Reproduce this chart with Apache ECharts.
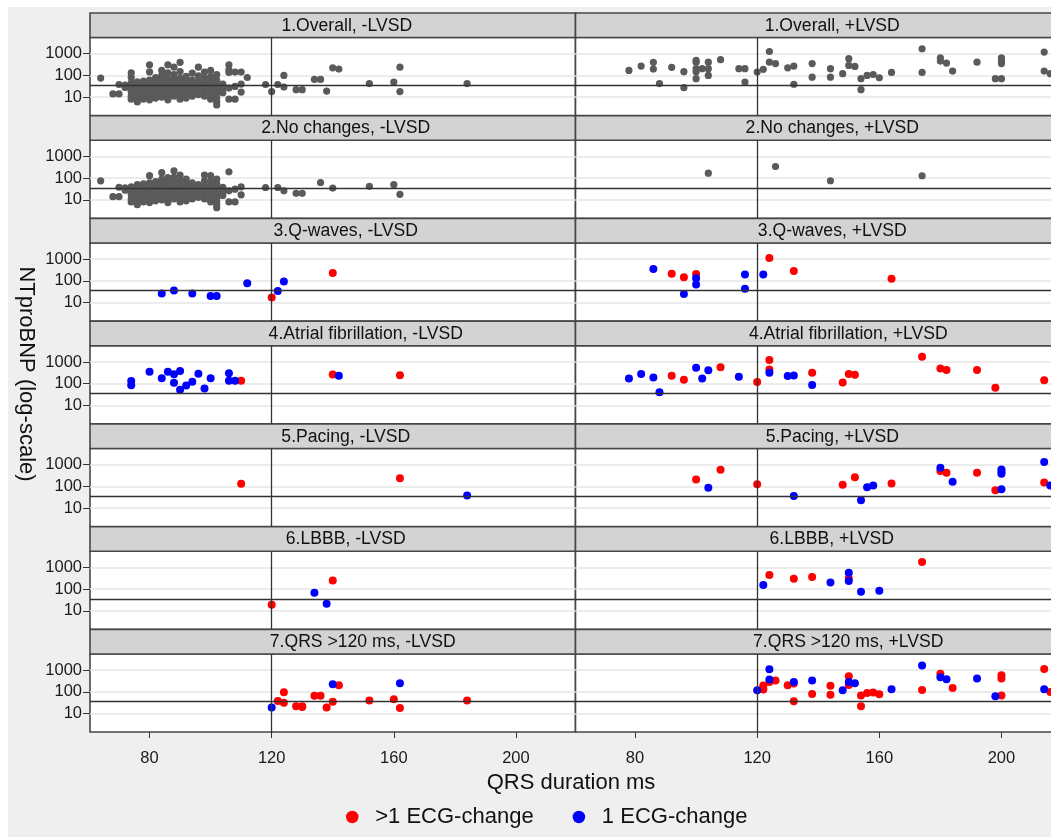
<!DOCTYPE html>
<html>
<head>
<meta charset="utf-8">
<script src="https://cdn.jsdelivr.net/npm/echarts@6/dist/echarts.min.js"></script>
<style>
  html, body { margin: 0; padding: 0; background: #fff; }
  #chart { width: 1051px; height: 837px; }
</style>
</head>
<body>
<div id="chart"></div>
<script>
'use strict';

// ---- data (QRS ms, NTproBNP) ----
const X_TICKS = [80, 120, 160, 200];
const QRS_CUTOFF = 120;
const BNP_CUTOFF = 36;

// dense -LVSD cloud, written as [qrs, [bnp, bnp, ...]] columns
const overallNegCols = [
  [64, [75]], [68, [14]], [70, [14, 38]], [72, [36, 28]],
  [74, [130, 80, 45, 28, 18, 11, 8]], [76, [50, 32, 22, 15, 10, 6]],
  [78, [55, 36, 24, 16, 11, 8]], [80, [310, 145, 60, 38, 25, 17, 11, 7.5]],
  [82, [80, 48, 30, 20, 13, 9]], [84, [170, 100, 60, 38, 25, 16, 10]],
  [86, [310, 130, 70, 42, 27, 18, 12, 7.5]], [88, [240, 110, 65, 40, 26, 17, 11]],
  [90, [400, 150, 75, 45, 30, 20, 13, 8]], [92, [90, 55, 35, 22, 14, 9]],
  [94, [128, 60, 38, 25, 16, 11]], [96, [240, 95, 50, 32, 20, 13]],
  [98, [143, 75, 45, 28, 18, 11]], [100, [170, 85, 50, 30, 19, 12, 8]],
  [102, [110, 60, 36, 23, 15, 9, 6, 4.3]], [104, [40, 25, 16]],
  [106, [310, 180, 136, 26, 8]], [108, [143, 31, 8]], [110, [143, 40, 17]], [112, [80]]
];
const overallNegTail = [[118, 38], [120, 18], [122, 38], [124, 100], [124, 29], [128, 22], [130, 22],
  [134, 65], [136, 65], [138, 19], [140, 225], [142, 195], [152, 42], [160, 49], [162, 240], [162, 18], [184, 42]];
const overallPos = [[78, 170], [82, 270], [86, 400], [86, 195], [88, 42], [92, 235], [96, 148], [96, 27],
  [100, 490], [100, 410], [100, 205], [100, 148], [100, 71], [102, 205], [104, 410], [104, 205], [104, 100],
  [108, 530], [114, 205], [116, 205], [116, 49], [120, 142], [122, 190], [124, 1270], [124, 410], [126, 350],
  [130, 225], [132, 270], [132, 39], [138, 350], [138, 83], [144, 205], [144, 83], [148, 120], [150, 590],
  [150, 290], [152, 260], [154, 71], [154, 22], [156, 100], [158, 110], [160, 78], [164, 138], [174, 1700],
  [174, 138], [180, 650], [180, 460], [182, 370], [184, 158], [192, 410], [198, 71], [200, 71], [200, 650],
  [200, 460], [200, 350], [214, 1190], [214, 158], [216, 120]];

const noChangeNegCols = [
  [64, [75]], [68, [14]], [70, [14, 38]], [72, [36, 28]],
  [74, [40, 28, 18, 11, 8]], [76, [50, 32, 22, 15, 10, 6]],
  [78, [55, 36, 24, 16, 11, 8]], [80, [130, 60, 38, 25, 17, 11, 7.5]],
  [82, [70, 45, 30, 20, 13, 9]], [84, [180, 90, 55, 35, 23, 15, 10]],
  [86, [107, 65, 40, 26, 17, 11, 7.5]], [88, [220, 110, 65, 40, 26, 17, 11]],
  [90, [140, 75, 45, 30, 20, 13, 8]], [92, [90, 55, 35, 22, 14, 9]],
  [94, [60, 38, 25, 16, 11]], [96, [50, 32, 20, 13]],
  [98, [140, 75, 45, 28, 18, 11]], [100, [130, 70, 45, 28, 18, 11, 8]],
  [102, [90, 55, 34, 22, 14, 9, 6, 4.3]], [104, [38, 25, 16]],
  [106, [195, 26, 8]], [108, [31, 8]], [110, [40, 17]]
];
const noChangeNegTail = [[118, 37], [122, 37], [124, 26], [128, 20], [130, 20], [136, 63], [140, 35],
  [152, 42], [160, 50], [162, 18]];
const noChangePos = [[104, 170], [126, 345], [144, 76], [174, 129]];

const qwaveNegBlue = [[84, 26], [88, 36], [94, 26], [100, 20], [102, 20], [112, 77], [122, 34], [124, 93]];
const qwaveNegRed = [[120, 17], [140, 230]];
const qwavePosBlue = [[86, 355], [100, 131], [100, 69], [96, 25], [116, 195], [116, 44], [122, 200]];
const qwavePosRed = [[92, 215], [96, 146], [100, 210], [124, 1150], [132, 290], [164, 126]];

const afibNegBlue = [[74, 132], [74, 85], [80, 355], [84, 176], [86, 355], [88, 275], [88, 110], [90, 380],
  [90, 52], [92, 82], [94, 123], [96, 290], [98, 60], [100, 176], [106, 305], [106, 137], [108, 137], [142, 230]];
const afibNegRed = [[110, 137], [140, 265], [162, 245]];
const afibPosBlue = [[78, 172], [82, 278], [86, 193], [88, 40], [100, 540], [102, 172], [104, 415], [114, 208],
  [124, 320], [130, 225], [132, 240], [138, 87]];
const afibPosRed = [[92, 232], [96, 150], [108, 575], [120, 120], [124, 1250], [124, 450], [138, 320], [148, 112],
  [150, 278], [152, 257], [174, 1730], [180, 500], [182, 430], [192, 430], [198, 65], [214, 145]];

const pacingNegBlue = [[184, 38]];
const pacingNegRed = [[110, 132], [162, 240]];
const pacingPosBlue = [[104, 86], [132, 36], [154, 23], [156, 92], [158, 109], [180, 725], [184, 162], [200, 600],
  [200, 470], [200, 380], [200, 74], [214, 1330], [216, 110]];
const pacingPosRed = [[100, 210], [108, 585], [120, 126], [148, 118], [152, 267], [164, 135], [180, 510], [182, 425],
  [192, 425], [198, 66], [214, 150]];

const lbbbNegBlue = [[134, 69], [138, 21]];
const lbbbNegRed = [[120, 19], [140, 250]];
const lbbbPosBlue = [[122, 155], [144, 205], [150, 565], [150, 238], [154, 76], [160, 84]];
const lbbbPosRed = [[124, 455], [132, 305], [138, 365], [150, 316], [174, 1780]];

const qrsNegBlue = [[120, 19], [140, 225], [162, 250]];
const qrsNegRed = [[122, 38], [124, 96], [124, 32], [128, 22], [130, 20], [130, 22], [134, 66], [136, 66], [138, 19],
  [140, 35], [142, 203], [152, 40], [160, 46], [162, 18], [184, 40]];
const qrsPosBlue = [[120, 120], [124, 1120], [124, 370], [132, 290], [138, 333], [148, 120], [150, 290], [152, 250],
  [164, 132], [174, 1640], [180, 475], [182, 385], [192, 415], [198, 63], [214, 132]];
const qrsPosRed = [[122, 152], [122, 196], [122, 129], [124, 290], [126, 333], [130, 204], [132, 242], [132, 37],
  [138, 81], [144, 190], [144, 73], [150, 525], [150, 210], [154, 68], [154, 22], [156, 89], [158, 95], [160, 77],
  [174, 124], [180, 680], [184, 152], [200, 585], [200, 415], [200, 68], [214, 1150], [216, 100]];

// ---- layout ----
const FONT = 'Liberation Sans, Arial, sans-serif';
const X_MIN = 60.5, X_MAX = 219.5;
const Y_MIN = 1.41, Y_MAX = 5620;
const PLOT_LEFT = 90, COL_W = 485.5;
const TOP0 = 13, ROW_H = 102.75, STRIP_H = 24.5, PLOT_H = 78;
const GRAY = '#5a5a5a', RED = '#ff0000', BLUE = '#0000ff';
const BORDER = '#474747';
const NAME_MULTI = '>1 ECG-change', NAME_ONE = '1 ECG-change';

function expandCols(cols) {
  const out = [];
  cols.forEach(([x, ys]) => ys.forEach(y => out.push([x, y])));
  return out;
}

// dx: strip title offset from the panel centre (the original sets long titles further right)
const panels = [
  {title: '1.Overall, -LVSD', dx: 14, gray: expandCols(overallNegCols).concat(overallNegTail)},
  {title: '1.Overall, +LVSD', dx: 14, gray: overallPos},
  {title: '2.No changes, -LVSD', dx: 13, gray: expandCols(noChangeNegCols).concat(noChangeNegTail)},
  {title: '2.No changes, +LVSD', dx: 14, gray: noChangePos},
  {title: '3.Q-waves, -LVSD', dx: 13, red: qwaveNegRed, blue: qwaveNegBlue},
  {title: '3.Q-waves, +LVSD', dx: 14, red: qwavePosRed, blue: qwavePosBlue},
  {title: '4.Atrial fibrillation, -LVSD', dx: 33, red: afibNegRed, blue: afibNegBlue},
  {title: '4.Atrial fibrillation, +LVSD', dx: 30, red: afibPosRed, blue: afibPosBlue},
  {title: '5.Pacing, -LVSD', dx: 13, red: pacingNegRed, blue: pacingNegBlue},
  {title: '5.Pacing, +LVSD', dx: 14, red: pacingPosRed, blue: pacingPosBlue},
  {title: '6.LBBB, -LVSD', dx: 13, red: lbbbNegRed, blue: lbbbNegBlue},
  {title: '6.LBBB, +LVSD', dx: 13.5, red: lbbbPosRed, blue: lbbbPosBlue},
  {title: '7.QRS >120 ms, -LVSD', dx: 30, red: qrsNegRed, blue: qrsNegBlue},
  {title: '7.QRS >120 ms, +LVSD', dx: 30, red: qrsPosRed, blue: qrsPosBlue}
];

const grids = [], xAxes = [], yAxes = [], series = [];
const graphics = [
  {type: 'rect', z: -100, shape: {x: 8, y: 7, width: 1043, height: 830}, style: {fill: '#efefef'}}
];

panels.forEach((p, i) => {
  const r = Math.floor(i / 2), c = i % 2;
  const left = PLOT_LEFT + c * COL_W;
  const stripTop = TOP0 + r * ROW_H;
  const bottomRow = r === 6;

  grids.push({
    left: left, top: stripTop + STRIP_H, width: COL_W, height: PLOT_H,
    show: true, backgroundColor: '#fff', borderColor: BORDER, borderWidth: 1.6,
    containLabel: false, outerBoundsMode: 'none'
  });
  xAxes.push({
    gridIndex: i, type: 'value', min: X_MIN, max: X_MAX,
    axisLine: {show: false}, splitLine: {show: false},
    axisTick: {show: bottomRow, customValues: X_TICKS, length: 6, lineStyle: {color: '#333'}},
    axisLabel: {show: bottomRow, customValues: X_TICKS, fontSize: 16.5, fontFamily: FONT, color: '#1a1a1a', margin: 18}
  });
  yAxes.push({
    gridIndex: i, type: 'log', logBase: 10, min: Y_MIN, max: Y_MAX,
    axisLine: {show: false},
    splitLine: {show: true, showMinLine: false, showMaxLine: false, lineStyle: {color: '#e6e6e6', width: 1.5}},
    axisTick: {show: c === 0, length: 7, lineStyle: {color: '#333'}},
    axisLabel: {show: c === 0, showMinLabel: false, showMaxLabel: false, fontSize: 16.5, fontFamily: FONT,
      color: '#1a1a1a', margin: 8, formatter: v => String(Math.round(v))}
  });

  const refLines = {
    silent: true, symbol: 'none', animation: false, label: {show: false},
    lineStyle: {color: '#333', width: 1.3, type: 'solid'},
    data: [{xAxis: QRS_CUTOFF}, {yAxis: BNP_CUTOFF}]
  };
  const base = {type: 'scatter', xAxisIndex: i, yAxisIndex: i, symbolSize: 8, animation: false};
  if (p.gray) {
    series.push(Object.assign({}, base, {name: 'All', data: p.gray, symbolSize: 7.2,
      itemStyle: {color: GRAY, opacity: 1}, markLine: refLines}));
  } else {
    series.push(Object.assign({}, base, {name: NAME_MULTI, data: p.red,
      itemStyle: {color: RED, opacity: 1}, markLine: refLines}));
    series.push(Object.assign({}, base, {name: NAME_ONE, data: p.blue,
      itemStyle: {color: BLUE, opacity: 1}}));
  }

  // facet strip
  graphics.push({
    type: 'rect', z: 5,
    shape: {x: left, y: stripTop, width: COL_W, height: STRIP_H},
    style: {fill: '#d3d3d3', stroke: BORDER, lineWidth: 1.6}
  });
  graphics.push({
    type: 'text', z: 6, x: left + COL_W / 2 + p.dx, y: stripTop + STRIP_H / 2 + 0.5,
    style: {text: p.title, fontSize: 17.6, fontFamily: FONT, fill: '#111', align: 'center', verticalAlign: 'middle'}
  });
});

graphics.push({
  type: 'text', z: 6, x: 26, y: 374, rotation: -Math.PI / 2,
  style: {text: 'NTproBNP (log-scale)', fontSize: 22, fontFamily: FONT, fill: '#111', align: 'center', verticalAlign: 'middle'}
});
graphics.push({
  type: 'text', z: 6, x: 571, y: 783,
  style: {text: 'QRS duration ms', fontSize: 22, fontFamily: FONT, fill: '#111', align: 'center', verticalAlign: 'middle'}
});

const chart = echarts.init(document.getElementById('chart'));
chart.setOption({
  backgroundColor: '#fff',
  animation: false,
  grid: grids,
  xAxis: xAxes,
  yAxis: yAxes,
  series: series,
  graphic: graphics,
  legend: {
    data: [NAME_MULTI, NAME_ONE],
    left: 346, top: 806, padding: 0,
    icon: 'circle', itemWidth: 36, itemHeight: 12.5, itemGap: 39,
    textStyle: {fontSize: 22, fontFamily: FONT, color: '#111'}
  }
});
</script>
</body>
</html>
